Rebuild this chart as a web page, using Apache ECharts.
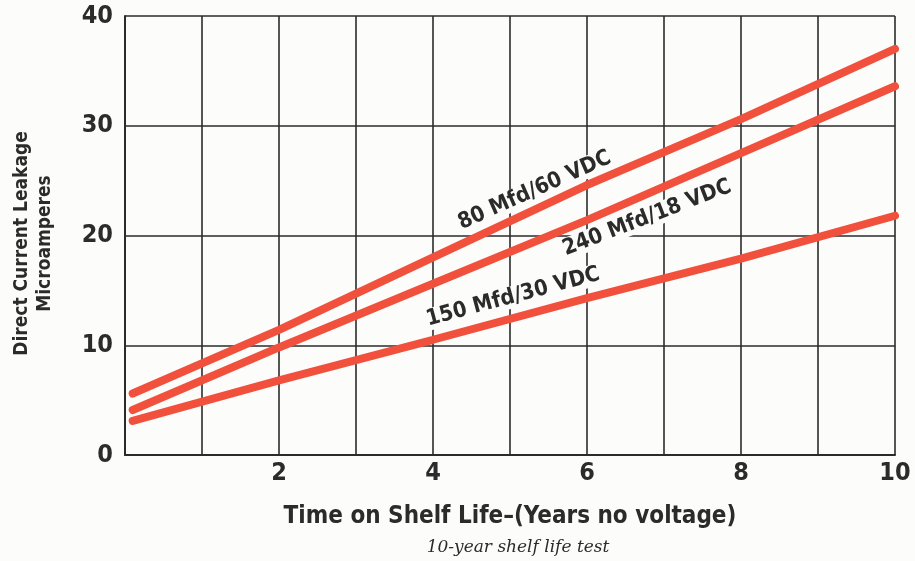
<!DOCTYPE html>
<html>
<head>
<meta charset="utf-8">
<script src="https://cdn.jsdelivr.net/npm/echarts@6/dist/echarts.min.js"></script>
<style>
  html, body { margin: 0; padding: 0; background: #fcfcfa; }
  #chart { width: 915px; height: 561px; }
</style>
</head>
<body>
<div id="chart"></div>
<script>
// years on shelf (x), leakage in microamperes (y)
const years = [0.1, 2, 4, 6, 8, 10]
const mfd80 = [5.6, 11.4, 18.0, 24.6, 30.6, 37.0]
const mfd240 = [4.1, 9.8, 15.6, 21.4, 27.5, 33.6]
const mfd150 = [3.1, 6.8, 10.5, 14.3, 17.9, 21.8]
const seriesNames = ['80 Mfd/60 VDC', '240 Mfd/18 VDC', '150 Mfd/30 VDC']
// where each curve's label sits, in data units, and its tilt in degrees
const labelAt = [[5.32, 24.1, 24], [6.78, 21.6, 21], [5.04, 14.4, 15]]

const condensed = '"Liberation Sans Narrow", "DejaVu Sans Condensed", sans-serif'
const red = '#f0503c'
const ink = '#2b2b2b'

function pairs(ys) {
    return years.map((x, i) => [x, ys[i]])
}

const chart = echarts.init(document.getElementById('chart'))
const lineStyle = { color: red, width: 8, cap: 'round' }

chart.setOption({
    backgroundColor: '#fcfcfa',
    animation: false,
    grid: { left: 125, right: 20, top: 16, bottom: 106, outerBoundsMode: 'none', containLabel: false },
    xAxis: {
        type: 'value',
        min: 0,
        max: 10,
        interval: 1,
        axisLine: { lineStyle: { color: ink, width: 2 } },
        axisTick: { show: false },
        splitLine: { lineStyle: { color: ink, width: 1.6 } },
        axisLabel: {
            margin: 6,
            fontFamily: condensed,
            fontWeight: 'bold',
            fontSize: 25,
            color: ink,
            formatter: v => (v > 0 && v % 2 === 0 ? String(v) : '')
        },
        name: 'Time on Shelf Life\u2013(Years no voltage)',
        nameLocation: 'middle',
        nameGap: 50,
        nameTextStyle: { fontFamily: condensed, fontWeight: 'bold', fontSize: 24, color: ink }
    },
    yAxis: {
        type: 'value',
        min: 0,
        max: 40,
        interval: 10,
        axisLine: { show: true, lineStyle: { color: ink, width: 2 } },
        axisTick: { show: false },
        splitLine: { lineStyle: { color: ink, width: 1.6 } },
        axisLabel: {
            margin: 12,
            fontFamily: condensed,
            fontWeight: 'bold',
            fontSize: 25,
            color: ink
        },
        name: 'Direct Current Leakage\nMicroamperes',
        nameLocation: 'middle',
        nameGap: 68,
        nameTextStyle: { fontFamily: condensed, fontWeight: 'bold', fontSize: 19, color: ink, lineHeight: 23, padding: [0, 16, 0, 0] }
    },
    series: [mfd80, mfd240, mfd150].map((ys, i) => ({
        name: seriesNames[i],
        type: 'line',
        data: pairs(ys),
        showSymbol: false,
        lineStyle: lineStyle,
        z: 3
    }))
})

// curve labels and the caption under the axis title
const graphics = labelAt.map((p, i) => {
    const pt = chart.convertToPixel({ gridIndex: 0 }, [p[0], p[1]])
    return {
        type: 'text',
        x: pt[0],
        y: pt[1],
        rotation: p[2] * Math.PI / 180,
        z: 10,
        style: {
            text: seriesNames[i],
            fill: ink,
            font: 'bold 22px ' + condensed,
            align: 'center',
            verticalAlign: 'middle',
            backgroundColor: '#fcfcfa',
            padding: [0, 3]
        }
    }
})
graphics.push({
    type: 'text',
    x: 518,
    y: 548,
    style: {
        text: '10-year shelf life test',
        fill: ink,
        font: 'italic 17px "DejaVu Serif", "Liberation Serif", serif',
        align: 'center',
        verticalAlign: 'middle'
    }
})
chart.setOption({ graphic: graphics })
</script>
</body>
</html>
